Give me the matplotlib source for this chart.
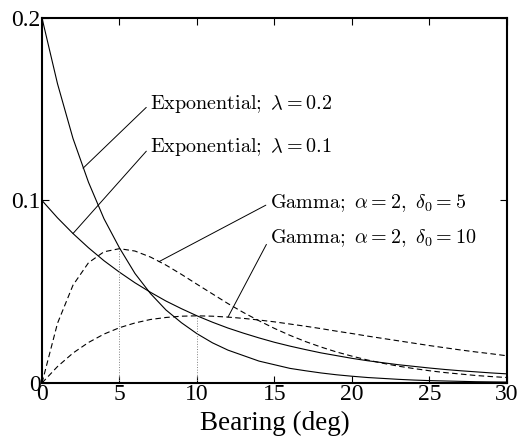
import matplotlib
matplotlib.use("Agg")
import matplotlib.pyplot as plt

plt.rcParams['font.family'] = 'Liberation Serif'
plt.rcParams['mathtext.fontset'] = 'cm'

# bearing (deg) and pdf values
bearing = list(range(0, 31))
exp_02 = [0.200, 0.164, 0.134, 0.110, 0.090, 0.074, 0.060, 0.049, 0.040, 0.033,
          0.027, 0.022, 0.018, 0.015, 0.012, 0.010, 0.008, 0.0067, 0.0055, 0.0045,
          0.0037, 0.0030, 0.0025, 0.0020, 0.0016, 0.0013, 0.0011, 0.0009, 0.0007,
          0.0006, 0.0005]
exp_01 = [0.100, 0.0905, 0.0819, 0.0741, 0.0670, 0.0607, 0.0549, 0.0497, 0.0449,
          0.0407, 0.0368, 0.0333, 0.0301, 0.0273, 0.0247, 0.0223, 0.0202, 0.0183,
          0.0165, 0.0150, 0.0135, 0.0122, 0.0111, 0.0100, 0.0091, 0.0082, 0.0074,
          0.0067, 0.0061, 0.0055, 0.0050]
gam_5 = [0.0, 0.0327, 0.0536, 0.0659, 0.0719, 0.0736, 0.0723, 0.0690, 0.0646,
         0.0595, 0.0541, 0.0488, 0.0435, 0.0386, 0.0341, 0.0299, 0.0261, 0.0227,
         0.0197, 0.0170, 0.0147, 0.0126, 0.0108, 0.0092, 0.0079, 0.0067, 0.0057,
         0.0049, 0.0041, 0.0035, 0.0030]
gam_10 = [0.0, 0.0090, 0.0164, 0.0222, 0.0268, 0.0303, 0.0329, 0.0348, 0.0359,
          0.0366, 0.0368, 0.0366, 0.0361, 0.0354, 0.0345, 0.0335, 0.0323, 0.0311,
          0.0298, 0.0284, 0.0271, 0.0257, 0.0244, 0.0231, 0.0218, 0.0205, 0.0193,
          0.0181, 0.0170, 0.0160, 0.0149]

# modes of the gamma curves (dotted markers)
modes = [5, 10]
mode_vals = [0.0736, 0.0368]

labels = [r'$\mathrm{Exponential;}\ \lambda = 0.2$',
          r'$\mathrm{Exponential;}\ \lambda = 0.1$',
          r'$\mathrm{Gamma;}\ \alpha = 2,\ \delta_0 = 5$',
          r'$\mathrm{Gamma;}\ \alpha = 2,\ \delta_0 = 10$']
label_pos = [(6.97, 0.153), (6.97, 0.1293), (14.7, 0.0986), (14.7, 0.0795)]
point_at = [(2.65, 0.1177), (2.0, 0.0819), (7.55, 0.0665), (12.0, 0.0361)]

fig = plt.figure(figsize=(5.21, 4.37), dpi=100)
ax = fig.add_axes([0.0806, 0.1236, 0.8925, 0.8352])

ax.plot(bearing, exp_02, color='black', lw=0.8)
ax.plot(bearing, exp_01, color='black', lw=0.8)
ax.plot(bearing, gam_5, color='black', lw=0.8, dashes=(5, 3))
ax.plot(bearing, gam_10, color='black', lw=0.8, dashes=(5, 3))

for m, v in zip(modes, mode_vals):
    ax.plot([m, m], [0, v], color='gray', lw=0.7, ls=':')

for txt, pos, pt in zip(labels, label_pos, point_at):
    ax.annotate(txt, xy=pt, xytext=pos, fontsize=14.5, ha='left', va='center',
                arrowprops=dict(arrowstyle='-', lw=0.7, color='black',
                                relpos=(0, 0.5), shrinkA=1, shrinkB=0))

ax.set_xlim(0, 30)
ax.set_ylim(0, 0.2)
ax.set_xticks([0, 5, 10, 15, 20, 25, 30])
ax.set_yticks([0, 0.1, 0.2])
ax.set_yticklabels(['0', '0.1', '0.2'])
ax.tick_params(direction='in', top=True, right=True, length=5, width=0.8,
               labelsize=17, pad=1)
for s in ax.spines.values():
    s.set_linewidth(1.5)
ax.set_xlabel('Bearing (deg)', fontsize=19.5)
ax.xaxis.set_label_coords(0.5, -0.1288)
ax.xaxis.label.set_va('baseline')

fig.savefig('out.png', dpi=100)
